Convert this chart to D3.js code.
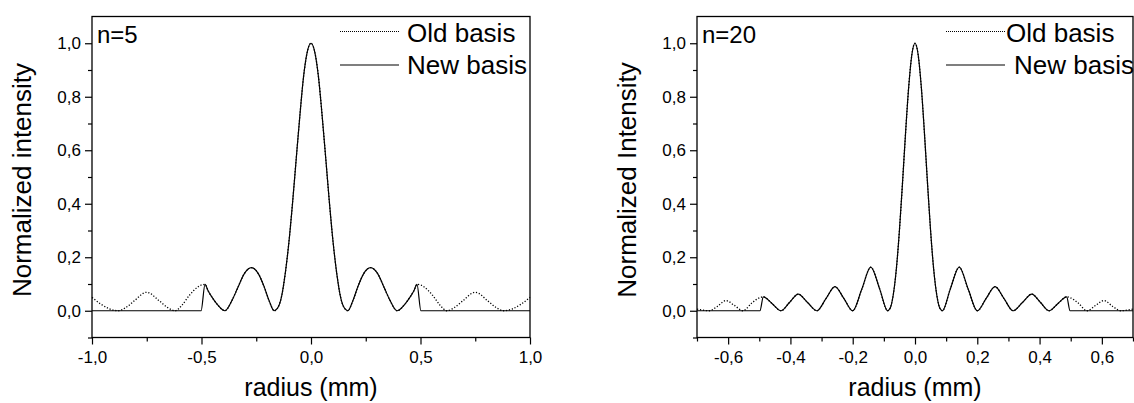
<!DOCTYPE html>
<html>
<head>
<meta charset="utf-8">
<script src="https://cdn.jsdelivr.net/npm/d3@7"></script>
<style>
  body { margin: 0; background: #fff; }
  svg { display: block; font-family: "Liberation Sans", Arial, sans-serif; }
</style>
</head>
<body>
<svg id="chart" width="1134" height="403"></svg>
<script>
// ---- n=5 panel ----
const radius5 = [-1.0, -0.96, -0.92, -0.88, -0.845, -0.81, -0.75, -0.69, -0.655, -0.621, -0.59, -0.555, -0.515, -0.502, -0.484, -0.47, -0.453, -0.43, -0.393, -0.36, -0.335, -0.305, -0.272, -0.24, -0.215, -0.19, -0.168, -0.151, -0.134, -0.118, -0.101, -0.084, -0.067, -0.05, -0.034, -0.017, 0,
  0.017, 0.034, 0.05, 0.067, 0.084, 0.101, 0.118, 0.134, 0.151, 0.168, 0.19, 0.215, 0.24, 0.272, 0.305, 0.335, 0.36, 0.393, 0.43, 0.453, 0.47, 0.484, 0.502, 0.515, 0.555, 0.59, 0.621, 0.655, 0.69, 0.75, 0.81, 0.845, 0.88, 0.92, 0.96, 1.0];
const old5 = [0.05, 0.025, 0.007, 0, 0.012, 0.035, 0.069, 0.035, 0.012, 0, 0.02, 0.058, 0.09, 0.096, 0.0985, 0.075, 0.052, 0.026, 0, 0.04, 0.085, 0.138, 0.161, 0.138, 0.092, 0.035, 0, 0.012, 0.055, 0.137, 0.255, 0.405, 0.573, 0.737, 0.875, 0.968, 1,
  0.968, 0.875, 0.737, 0.573, 0.405, 0.255, 0.137, 0.055, 0.012, 0, 0.035, 0.092, 0.138, 0.161, 0.138, 0.085, 0.04, 0, 0.026, 0.052, 0.075, 0.0985, 0.096, 0.09, 0.058, 0.02, 0, 0.012, 0.035, 0.069, 0.035, 0.012, 0, 0.007, 0.025, 0.05];
const new5 = [0, 0, 0, 0, 0, 0, 0, 0, 0, 0, 0, 0, 0, 0, 0.0985, 0.075, 0.052, 0.026, 0, 0.04, 0.085, 0.138, 0.161, 0.138, 0.092, 0.035, 0, 0.012, 0.055, 0.137, 0.255, 0.405, 0.573, 0.737, 0.875, 0.968, 1,
  0.968, 0.875, 0.737, 0.573, 0.405, 0.255, 0.137, 0.055, 0.012, 0, 0.035, 0.092, 0.138, 0.161, 0.138, 0.085, 0.04, 0, 0.026, 0.052, 0.075, 0.0985, 0, 0, 0, 0, 0, 0, 0, 0, 0, 0, 0, 0, 0, 0];
const xTicks5 = [-1, -0.5, 0, 0.5, 1];
const xMinor5 = [-0.75, -0.25, 0.25, 0.75];

// ---- n=20 panel ----
const radius20 = [-0.7, -0.68, -0.66, -0.635, -0.607, -0.58, -0.552, -0.525, -0.498, -0.487, -0.46, -0.43, -0.403, -0.375, -0.345, -0.315, -0.286, -0.257, -0.228, -0.2, -0.171, -0.142, -0.113, -0.088, -0.08, -0.07, -0.06, -0.05, -0.04, -0.03, -0.02, -0.01, 0,
  0.01, 0.02, 0.03, 0.04, 0.05, 0.06, 0.07, 0.08, 0.088, 0.113, 0.142, 0.171, 0.2, 0.228, 0.257, 0.286, 0.315, 0.345, 0.375, 0.403, 0.43, 0.46, 0.487, 0.498, 0.525, 0.552, 0.58, 0.607, 0.635, 0.66, 0.68, 0.7];
const old20 = [0.006, 0.002, 0, 0.016, 0.038, 0.02, 0, 0.028, 0.049, 0.052, 0.028, 0, 0.031, 0.062, 0.031, 0, 0.045, 0.09, 0.045, 0, 0.08, 0.163, 0.08, 0, 0.009, 0.058, 0.155, 0.3, 0.48, 0.67, 0.84, 0.958, 1,
  0.958, 0.84, 0.67, 0.48, 0.3, 0.155, 0.058, 0.009, 0, 0.08, 0.163, 0.08, 0, 0.045, 0.09, 0.045, 0, 0.031, 0.062, 0.031, 0, 0.028, 0.052, 0.049, 0.028, 0, 0.02, 0.038, 0.016, 0, 0.002, 0.006];
const new20 = [0, 0, 0, 0, 0, 0, 0, 0, 0, 0.052, 0.028, 0, 0.031, 0.062, 0.031, 0, 0.045, 0.09, 0.045, 0, 0.08, 0.163, 0.08, 0, 0.009, 0.058, 0.155, 0.3, 0.48, 0.67, 0.84, 0.958, 1,
  0.958, 0.84, 0.67, 0.48, 0.3, 0.155, 0.058, 0.009, 0, 0.08, 0.163, 0.08, 0, 0.045, 0.09, 0.045, 0, 0.031, 0.062, 0.031, 0, 0.028, 0.052, 0, 0, 0, 0, 0, 0, 0, 0, 0];
const xTicks20 = [-0.6, -0.4, -0.2, 0, 0.2, 0.4, 0.6];
const xMinor20 = [-0.7, -0.5, -0.3, -0.1, 0.1, 0.3, 0.5, 0.7];

// shared y ticks
const yTicks = [0, 0.2, 0.4, 0.6, 0.8, 1.0];
const yMinor = [-0.1, 0.1, 0.3, 0.5, 0.7, 0.9];

const seriesNames = ["Old basis", "New basis"];

const locale = d3.formatLocale({decimal: ",", thousands: ".", grouping: [3], currency: ["", ""], minus: "-"});
const fmt = locale.format(".1f");

const svg = d3.select("#chart");

function drawPanel(p) {
  const x = d3.scaleLinear().domain(p.xDomain).range([p.left, p.right]);
  const y = d3.scaleLinear().domain([-0.1, 1.1]).range([337.5, 16.5]);
  const g = svg.append("g");

  // X Axis (major + minor)
  g.append("g")
    .attr("transform", `translate(0,${y.range()[0]})`)
    .call(d3.axisBottom(x).tickValues(p.xTicks).tickSize(7).tickPadding(6).tickFormat(fmt));
  g.append("g")
    .attr("transform", `translate(0,${y.range()[0]})`)
    .call(d3.axisBottom(x).tickValues(p.xMinor).tickSize(4).tickFormat(""));

  // Y Axis (major + minor)
  g.append("g")
    .attr("transform", `translate(${p.left},0)`)
    .call(d3.axisLeft(y).tickValues(yTicks).tickSize(7).tickPadding(4).tickFormat(fmt));
  g.append("g")
    .attr("transform", `translate(${p.left},0)`)
    .call(d3.axisLeft(y).tickValues(yMinor).tickSize(4).tickFormat(""));

  g.selectAll(".domain").remove();
  g.selectAll(".tick line").attr("stroke", "#000").attr("stroke-width", 1.2);
  g.selectAll(".tick text")
    .attr("fill", "#000")
    .style("font-family", "'Liberation Sans', Arial, sans-serif")
    .style("font-size", "17px");

  // frame
  g.append("rect")
    .attr("x", p.left).attr("y", y.range()[1])
    .attr("width", p.right - p.left).attr("height", y.range()[0] - y.range()[1])
    .attr("fill", "none").attr("stroke", "#000").attr("stroke-width", 1.3);

  const line = d3.line()
    .x((d, i) => x(p.radius[i]))
    .y(d => y(d))
    .curve(d3.curveMonotoneX);

  // Old basis (dotted) then New basis (solid)
  g.append("path")
    .datum(p.old)
    .attr("fill", "none")
    .attr("stroke", "#000")
    .attr("stroke-width", 1.3)
    .attr("stroke-dasharray", "1.2,1.8")
    .attr("d", line);
  g.append("path")
    .datum(p.neu)
    .attr("fill", "none")
    .attr("stroke", "#000")
    .attr("stroke-width", 1.2)
    .attr("d", line);

  // axis titles
  g.append("text")
    .attr("x", (p.left + p.right) / 2)
    .attr("y", 396)
    .attr("text-anchor", "middle")
    .style("font-size", "25px")
    .text("radius (mm)");
  g.append("text")
    .attr("transform", `translate(${p.yTitleX},180) rotate(-90)`)
    .attr("text-anchor", "middle")
    .attr("dy", "0.35em")
    .style("font-size", "26px")
    .text(p.yTitle);

  // panel label
  g.append("text")
    .attr("x", p.left + 5)
    .attr("y", 42.5)
    .style("font-size", "24px")
    .text(p.label);

  // legend
  const legendY = [31.5, 65];
  const baseY = [41.5, 74];
  seriesNames.forEach((name, i) => {
    g.append("line")
      .attr("x1", p.legLine[0]).attr("x2", p.legLine[1])
      .attr("y1", legendY[i]).attr("y2", legendY[i])
      .attr("stroke", "#000")
      .attr("stroke-width", i === 0 ? 1 : 1.2)
      .attr("stroke-dasharray", i === 0 ? "1,1" : null);
    g.append("text")
      .attr("x", p.legText[i])
      .attr("y", baseY[i])
      .style("font-size", "26px")
      .text(name);
  });
}

drawPanel({
  left: 92, right: 530, xDomain: [-1, 1],
  xTicks: xTicks5, xMinor: xMinor5,
  radius: radius5, old: old5, neu: new5,
  yTitle: "Normalized intensity", yTitleX: 22,
  label: "n=5", legLine: [340, 399], legText: [407, 407]
});

drawPanel({
  left: 697, right: 1133, xDomain: [-0.7, 0.7],
  xTicks: xTicks20, xMinor: xMinor20,
  radius: radius20, old: old20, neu: new20,
  yTitle: "Normalized Intensity", yTitleX: 627,
  label: "n=20", legLine: [946, 1005], legText: [1006, 1014]
});
</script>
</body>
</html>
